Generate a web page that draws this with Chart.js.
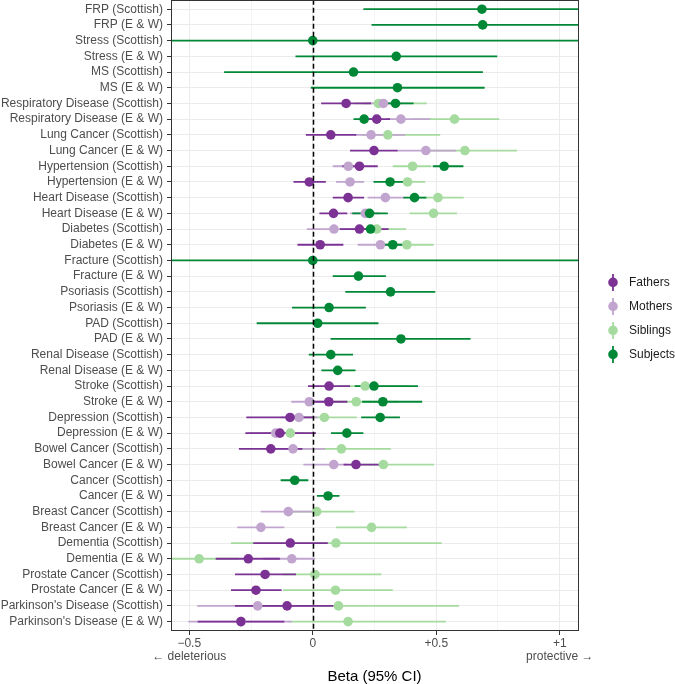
<!DOCTYPE html>
<html lang="en">
<head>
    <meta charset="UTF-8">
    <title>Beta (95% CI) by family member</title>
    <script src="https://cdn.jsdelivr.net/npm/chart.js"></script>
    <style>
        body { margin: 0; background: #fff; overflow: hidden; }
    </style>
</head>
<body>

<!-- shifted up 5px: Chart.js keeps room for the point radius above the plot -->
<div style="width: 675px; height: 689px; margin-top: -5px;">
    <canvas id="chart"></canvas>
</div>

<script>
    // Rows, top to bottom
    const rowLabels = [
        'FRP (Scottish)', 'FRP (E & W)', 'Stress (Scottish)', 'Stress (E & W)',
        'MS (Scottish)', 'MS (E & W)', 'Respiratory Disease (Scottish)', 'Respiratory Disease (E & W)',
        'Lung Cancer (Scottish)', 'Lung Cancer (E & W)', 'Hypertension (Scottish)', 'Hypertension (E & W)',
        'Heart Disease (Scottish)', 'Heart Disease (E & W)', 'Diabetes (Scottish)', 'Diabetes (E & W)',
        'Fracture (Scottish)', 'Fracture (E & W)', 'Psoriasis (Scottish)', 'Psoriasis (E & W)',
        'PAD (Scottish)', 'PAD (E & W)', 'Renal Disease (Scottish)', 'Renal Disease (E & W)',
        'Stroke (Scottish)', 'Stroke (E & W)', 'Depression (Scottish)', 'Depression (E & W)',
        'Bowel Cancer (Scottish)', 'Bowel Cancer (E & W)', 'Cancer (Scottish)', 'Cancer (E & W)',
        'Breast Cancer (Scottish)', 'Breast Cancer (E & W)', 'Dementia (Scottish)', 'Dementia (E & W)',
        'Prostate Cancer (Scottish)', 'Prostate Cancer (E & W)', "Parkinson's Disease (Scottish)", "Parkinson's Disease (E & W)"
    ];

    const n = null;

    // Fathers: estimate, lower, upper (one entry per row)
    const fathersEst = [n, n, n, n, n, n, 0.135, 0.259, 0.073, 0.248, 0.189, -0.014, 0.143, 0.084, 0.189, 0.030,
        n, n, n, n, n, n, n, n, 0.066, 0.065, -0.092, -0.133, -0.170, 0.175, n, n, n, n, -0.091, -0.261, -0.193, -0.230, -0.104, -0.291];
    const fathersLo = [n, n, n, n, n, n, 0.034, 0.200, -0.028, 0.151, 0.120, -0.078, 0.081, 0.027, 0.110, -0.062,
        n, n, n, n, n, n, n, n, -0.019, 0.000, -0.269, -0.273, -0.299, 0.125, n, n, n, n, -0.241, -0.393, -0.315, -0.331, -0.315, -0.466];
    const fathersHi = [n, n, n, n, n, n, 0.236, 0.313, 0.176, 0.343, 0.263, 0.053, 0.208, 0.140, 0.307, 0.124,
        n, n, n, n, n, n, n, n, 0.151, 0.140, 0.005, 0.013, -0.042, 0.273, n, n, n, n, 0.061, -0.133, -0.068, -0.126, 0.084, -0.115];

    // Mothers
    const mothersEst = [n, n, n, n, n, n, 0.286, 0.357, 0.236, 0.458, 0.144, 0.151, 0.294, 0.213, 0.086, 0.274,
        n, n, n, n, n, n, n, n, n, -0.014, -0.056, -0.150, -0.080, 0.085, n, n, -0.099, -0.210, n, -0.085, n, n, -0.223, -0.290];
    const mothersLo = [n, n, n, n, n, n, 0.210, 0.300, 0.170, 0.340, 0.081, 0.094, 0.222, 0.151, -0.024, 0.182,
        n, n, n, n, n, n, n, n, n, -0.087, -0.130, -0.260, -0.190, -0.038, n, n, -0.211, -0.306, n, -0.200, n, n, -0.468, -0.504];
    const mothersHi = [n, n, n, n, n, n, 0.360, 0.475, 0.374, 0.580, 0.210, 0.208, 0.374, 0.270, 0.190, 0.360,
        n, n, n, n, n, n, n, n, n, 0.060, 0.020, -0.040, 0.050, 0.140, n, n, 0.000, -0.115, n, 0.009, n, n, 0.000, -0.085];

    // Siblings
    const siblingsEst = [n, n, n, n, n, n, 0.266, 0.574, 0.304, 0.616, 0.404, 0.384, 0.507, 0.489, 0.259, 0.381,
        n, n, n, n, n, n, n, n, 0.212, 0.176, 0.047, -0.091, 0.116, 0.286, n, n, 0.016, 0.238, 0.094, -0.460, 0.009, 0.092, 0.104, 0.143];
    const siblingsLo = [n, n, n, n, n, n, 0.170, 0.400, 0.200, 0.450, 0.324, 0.310, 0.400, 0.392, 0.150, 0.280,
        n, n, n, n, n, n, n, n, 0.100, 0.050, -0.080, -0.200, -0.050, 0.150, n, n, -0.100, 0.094, -0.331, -0.650, -0.120, -0.120, -0.200, -0.100];
    const siblingsHi = [n, n, n, n, n, n, 0.462, 0.755, 0.516, 0.827, 0.480, 0.455, 0.611, 0.584, 0.378, 0.489,
        n, n, n, n, n, n, n, n, 0.392, 0.347, 0.178, 0.000, 0.316, 0.491, n, n, 0.169, 0.381, 0.522, -0.300, 0.278, 0.324, 0.592, 0.539];

    // Subjects
    const subjectsEst = [0.685, 0.688, 0.000, 0.338, 0.165, 0.343, 0.335, 0.208, n, n, 0.532, 0.313, 0.412, 0.230, 0.234, 0.324,
        0.000, 0.185, 0.315, 0.066, 0.020, 0.357, 0.073, 0.101, 0.248, 0.284, 0.273, 0.138, n, n, -0.073, 0.062, n, n, n, n, n, n, n, n];
    const subjectsLo = [0.205, 0.238, -1.200, -0.070, -0.359, -0.008, 0.260, 0.165, n, n, 0.486, 0.246, 0.367, 0.160, 0.190, 0.270,
        -1.200, 0.081, 0.132, -0.084, -0.227, 0.072, -0.016, 0.035, 0.170, 0.200, 0.196, 0.074, n, n, -0.130, 0.017, n, n, n, n, n, n, n, n];
    const subjectsHi = [1.300, 1.300, 1.200, 0.747, 0.689, 0.696, 0.408, 0.250, n, n, 0.610, 0.370, 0.460, 0.304, 0.270, 0.370,
        1.200, 0.296, 0.496, 0.215, 0.266, 0.639, 0.163, 0.173, 0.426, 0.443, 0.353, 0.205, n, n, -0.018, 0.108, n, n, n, n, n, n, n, n];

    const xTicks = [-0.5, -0.25, 0, 0.25, 0.5, 0.75, 1];
    const xTickLabels = { '-0.5': ['\u22120.5', '\u2190 deleterious'], '0': '0', '0.5': '+0.5', '1': ['+1', 'protective \u2192'] };

    const series = [
        { name: 'Fathers', color: '#7b3294', est: fathersEst, lo: fathersLo, hi: fathersHi, order: 0 },
        { name: 'Mothers', color: '#c2a5cf', est: mothersEst, lo: mothersLo, hi: mothersHi, order: 2 },
        { name: 'Siblings', color: '#a6dba0', est: siblingsEst, lo: siblingsLo, hi: siblingsHi, order: 3 },
        { name: 'Subjects', color: '#008837', est: subjectsEst, lo: subjectsLo, hi: subjectsHi, order: 1 }
    ];

    Chart.defaults.font.family = "'Liberation Sans', Arial, sans-serif";

    // confidence interval lines, drawn under the points
    const intervals = {
        id: 'intervals',
        beforeDatasetsDraw(chart) {
            const { ctx, chartArea: a, scales: { x, y } } = chart;
            ctx.save();
            ctx.beginPath();
            ctx.rect(a.left, a.top, a.right - a.left, a.bottom - a.top);
            ctx.clip();
            ctx.lineWidth = 1.8;
            [...series].sort((p, q) => q.order - p.order).forEach(s => {
                ctx.strokeStyle = s.color;
                s.est.forEach((e, i) => {
                    if (e === null) return;
                    const py = y.getPixelForValue(i);
                    ctx.beginPath();
                    ctx.moveTo(x.getPixelForValue(s.lo[i]), py);
                    ctx.lineTo(x.getPixelForValue(s.hi[i]), py);
                    ctx.stroke();
                });
            });
            ctx.restore();
        },
        afterDatasetsDraw(chart) {
            const { ctx, chartArea: a, scales: { x } } = chart;
            const px = Math.round(x.getPixelForValue(0)) + 0.5;
            ctx.save();
            ctx.strokeStyle = '#000';
            ctx.lineWidth = 1.5;
            ctx.setLineDash([5, 3]);
            ctx.beginPath();
            ctx.moveTo(px, a.top);
            ctx.lineTo(px, a.bottom);
            ctx.stroke();
            ctx.restore();
        },
        afterDraw(chart) {
            const { ctx, chartArea: a } = chart;
            ctx.save();
            // panel border
            ctx.strokeStyle = '#333333';
            ctx.lineWidth = 1;
            ctx.strokeRect(Math.round(a.left) + 0.5, Math.round(a.top) + 0.5,
                Math.round(a.right - a.left), Math.round(a.bottom - a.top) - 1);
            // legend, roughly centred beside the panel
            ctx.font = "12px 'Liberation Sans', Arial, sans-serif";
            ctx.textBaseline = 'middle';
            const top = (a.top + a.bottom) / 2 - 33;
            series.forEach((s, i) => {
                const ly = top + i * 24;
                ctx.strokeStyle = s.color;
                ctx.fillStyle = s.color;
                ctx.lineWidth = 1.8;
                ctx.beginPath();
                ctx.moveTo(613, ly - 8.5);
                ctx.lineTo(613, ly + 8.5);
                ctx.stroke();
                ctx.beginPath();
                ctx.arc(613, ly, 4.8, 0, Math.PI * 2);
                ctx.fill();
                ctx.fillStyle = '#1a1a1a';
                ctx.fillText(s.name, 629, ly);
            });
            ctx.restore();
        }
    };

    const ctx = document.getElementById('chart').getContext('2d');
    new Chart(ctx, {
        type: 'scatter',
        data: {
            datasets: series.map(s => ({
                label: s.name,
                order: s.order,
                data: s.est.map((e, i) => ({ x: e, y: i })).filter(p => p.x !== null),
                backgroundColor: s.color,
                borderWidth: 0,
                pointRadius: 4.8,
                pointHoverRadius: 4.8
            }))
        },
        options: {
            responsive: true,
            maintainAspectRatio: false,
            animation: false,
            events: [],
            layout: {
                padding: { left: 0, right: 97, top: 0, bottom: 0 }
            },
            scales: {
                x: {
                    type: 'linear',
                    min: -0.574,
                    max: 1.074,
                    afterBuildTicks: s => { s.ticks = xTicks.map(v => ({ value: v })); },
                    afterFit: s => { s.height = 53; s.paddingLeft = 0; s.paddingRight = 0; },
                    ticks: {
                        autoSkip: false,
                        maxRotation: 0,
                        padding: 2,
                        color: '#4d4d4d',
                        font: { size: 12, lineHeight: 1.1 },
                        callback: v => xTickLabels[String(v)] || ''
                    },
                    grid: {
                        color: '#ebebeb',
                        lineWidth: c => (c.tick && Number.isInteger(c.tick.value * 2)) ? 1 : 0.5,
                        tickColor: c => (c.tick && Number.isInteger(c.tick.value * 2)) ? '#333333' : 'rgba(0,0,0,0)',
                        tickLength: 4
                    },
                    border: { display: false },
                    title: {
                        display: true,
                        text: 'Beta (95% CI)',
                        color: '#000',
                        font: { size: 15, lineHeight: 1.0 },
                        padding: { top: 4, bottom: 0 }
                    }
                },
                y: {
                    type: 'linear',
                    reverse: true,
                    min: -0.6,
                    max: rowLabels.length - 0.4,
                    afterBuildTicks: s => { s.ticks = rowLabels.map((_, i) => ({ value: i })); },
                    afterFit: s => { s.width = 171; s.paddingTop = 0; s.paddingBottom = 0; },
                    ticks: {
                        autoSkip: false,
                        padding: 4,
                        color: '#4d4d4d',
                        font: { size: 12 },
                        callback: v => rowLabels[v]
                    },
                    grid: {
                        color: '#ebebeb',
                        lineWidth: 1,
                        tickColor: '#333333',
                        tickLength: 4
                    },
                    border: { display: false }
                }
            },
            plugins: {
                legend: { display: false },
                tooltip: { enabled: false }
            }
        },
        plugins: [intervals]
    });
</script>
</body>
</html>
